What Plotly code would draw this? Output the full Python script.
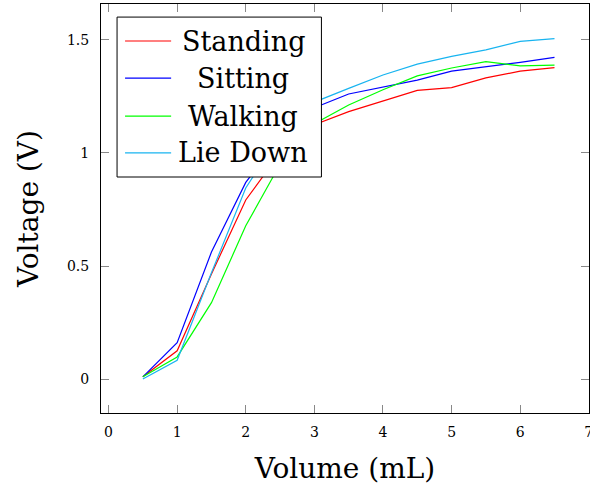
import plotly.graph_objects as go

volume = [0.5, 1.0, 1.5, 2.0, 2.5, 3.0, 3.5, 4.0, 4.5, 5.0, 5.5, 6.0, 6.5]
standing = [0.01, 0.125, 0.465, 0.792, 1.00, 1.125, 1.183, 1.23, 1.277, 1.289, 1.332, 1.362, 1.378]
sitting = [0.01, 0.161, 0.562, 0.87, 1.07, 1.20, 1.261, 1.29, 1.322, 1.362, 1.38, 1.401, 1.423]
walking = [0.01, 0.098, 0.338, 0.678, 0.95, 1.13, 1.212, 1.28, 1.341, 1.376, 1.404, 1.385, 1.389]
lie_down = [0.0, 0.083, 0.47, 0.845, 1.08, 1.225, 1.286, 1.345, 1.393, 1.427, 1.456, 1.494, 1.506]

series_names = ["Standing", "Sitting", "Walking", "Lie Down"]
series_values = [standing, sitting, walking, lie_down]
colors = ["#ff0000", "#0000ff", "#00ff00", "#18b4f0"]

x_ticks = [0, 1, 2, 3, 4, 5, 6, 7]
y_ticks = [0, 0.5, 1, 1.5]
y_tick_text = ["0", "0.5", "1", "1.5"]

FONT = "DejaVu Serif"

fig = go.Figure()
for name, vals, col in zip(series_names, series_values, colors):
    fig.add_trace(go.Scatter(x=volume, y=vals, mode="lines", name=name,
                             line=dict(color=col, width=1.2), showlegend=False))

# manual legend (centered text like pgfplots)
lx0, lx1, ly0, ly1 = 0.0329, 0.4517, 0.577, 0.968
shapes = [dict(type="rect", xref="paper", yref="paper", x0=lx0, x1=lx1, y0=ly0, y1=ly1,
               line=dict(color="black", width=1), fillcolor="white", layer="above")]
annotations = []
entry_y = [0.9095, 0.819, 0.726, 0.636]
for name, col, yy in zip(series_names, colors, entry_y):
    shapes.append(dict(type="line", xref="paper", yref="paper", x0=0.0493, x1=0.1437,
                       y0=yy, y1=yy, line=dict(color=col, width=1.2), layer="above"))
    annotations.append(dict(xref="paper", yref="paper", x=0.2916, y=yy, text=name,
                            showarrow=False, xanchor="center", yanchor="middle",
                            font=dict(family=FONT, size=27, color="black")))

fig.update_layout(
    width=590, height=490,
    margin=dict(l=101, r=1, t=4, b=77, autoexpand=False),
    paper_bgcolor="white", plot_bgcolor="white",
    font=dict(family=FONT, color="black"),
    shapes=shapes, annotations=annotations,
    xaxis=dict(range=[-0.11, 7.003], tickvals=x_ticks, ticks="inside", ticklen=8,
               tickcolor="#888888", tickwidth=1, showgrid=False, zeroline=False,
               showline=True, linecolor="black", linewidth=1, mirror="ticks",
               tickfont=dict(family=FONT, size=14), ticklabelstandoff=6,
               ticklabeloverflow="allow", automargin=False,
               title=dict(text="Volume (mL)", font=dict(family=FONT, size=28), standoff=19)),
    yaxis=dict(range=[-0.15, 1.659], tickvals=y_ticks, ticktext=y_tick_text, ticks="inside",
               ticklen=8, tickcolor="#888888", tickwidth=1, showgrid=False, zeroline=False,
               showline=True, linecolor="black", linewidth=1, mirror="ticks",
               tickfont=dict(family=FONT, size=14), ticklabelstandoff=8, automargin=False,
               title=dict(text="Voltage (V)", font=dict(family=FONT, size=28), standoff=20)),
)

fig.write_html("out.html")
